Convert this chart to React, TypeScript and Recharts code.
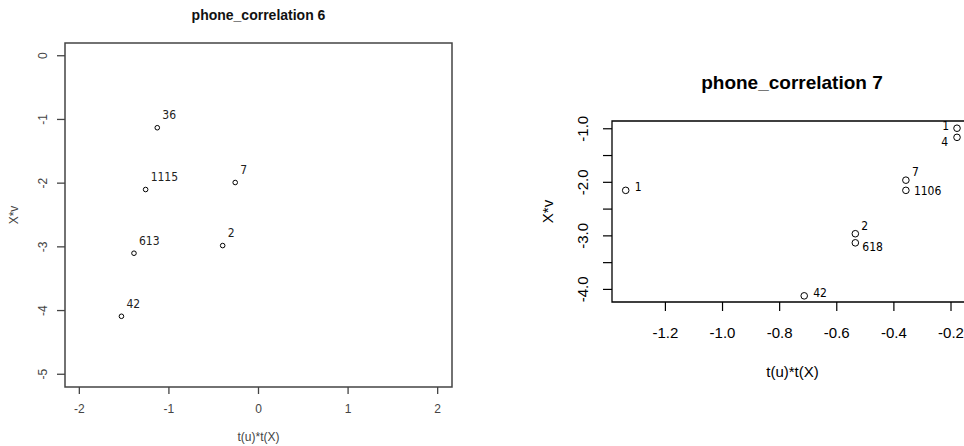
import React from "react";
import { ScatterChart, Scatter, XAxis, YAxis, ReferenceArea, Label } from "recharts";

// phone_correlation 6
const ids6 = ["36", "1115", "7", "2", "613", "42"];
const x6 = [-1.13, -1.26, -0.26, -0.4, -1.39, -1.53];
const y6 = [-1.13, -2.1, -1.99, -2.98, -3.1, -4.09];
const xTicks6 = [-2, -1, 0, 1, 2];
const yTicks6 = [0, -1, -2, -3, -4, -5];
const xDomain6: [number, number] = [-2.16, 2.16];
const yDomain6: [number, number] = [-5.2, 0.2];

// phone_correlation 7
const ids7 = ["1", "1", "4", "7", "1106", "2", "618", "42"];
const x7 = [-1.339, -0.179, -0.179, -0.358, -0.358, -0.535, -0.535, -0.714];
const y7 = [-2.15, -0.99, -1.16, -1.96, -2.15, -2.96, -3.13, -4.12];
const pos7 = ["right", "left", "lowerLeft", "upper", "rightLow", "upper", "lowerRight", "right"];
const xTicks7 = [-1.2, -1.0, -0.8, -0.6, -0.4, -0.2];
const yTicks7 = [-1, -1.5, -2, -2.5, -3, -3.5, -4];
const xDomain7: [number, number] = [-1.387, -0.123];
const yDomain7: [number, number] = [-4.235, -0.855];

const placements: Record<string, { dx: number; dy: number; anchor: "start" | "end" }> = {
  upperRight: { dx: 5, dy: -12.5, anchor: "start" },
  right: { dx: 9, dy: -3, anchor: "start" },
  rightLow: { dx: 8, dy: 1, anchor: "start" },
  upper: { dx: 6, dy: -8, anchor: "start" },
  lowerRight: { dx: 7, dy: 4, anchor: "start" },
  left: { dx: -8, dy: -2, anchor: "end" },
  lowerLeft: { dx: -9, dy: 5, anchor: "end" },
};

const data6 = ids6.map((id, i) => ({ id, x: x6[i], y: y6[i], pos: "upperRight" }));
const data7 = ids7.map((id, i) => ({ id, x: x7[i], y: y7[i], pos: pos7[i] }));

const labelFont = "'DejaVu Sans Condensed', 'DejaVu Sans', sans-serif";
const axisFont = "'Liberation Sans', Arial, sans-serif";

function makePoint(r: number, color: string) {
  return (props: any) => {
    const { cx, cy, payload } = props;
    const p = placements[payload.pos];
    return (
      <g>
        <circle cx={cx} cy={cy} r={r} fill="none" stroke="#000" strokeWidth={1} />
        <text
          x={cx + p.dx}
          y={cy + p.dy}
          textAnchor={p.anchor}
          dominantBaseline="central"
          fontFamily={labelFont}
          fontSize={12}
          fill={color}
        >
          {payload.id}
        </text>
      </g>
    );
  };
}

function makeXTick(size: number, color: string, fmt: (v: number) => string) {
  return (props: any) => (
    <text
      x={props.x}
      y={props.y}
      textAnchor="middle"
      dominantBaseline="central"
      fontFamily={axisFont}
      fontSize={size}
      fill={color}
    >
      {fmt(props.payload.value)}
    </text>
  );
}

function makeYTick(size: number, color: string, fmt: (v: number) => string) {
  return (props: any) => (
    <text
      x={props.x}
      y={props.y}
      transform={`rotate(-90 ${props.x} ${props.y})`}
      textAnchor="middle"
      dominantBaseline="central"
      fontFamily={axisFont}
      fontSize={size}
      fill={color}
    >
      {fmt(props.payload.value)}
    </text>
  );
}

const fmtInt = (v: number) => String(v);
const fmt1 = (v: number) => v.toFixed(1);
const fmtWhole1 = (v: number) => (Number.isInteger(v) ? v.toFixed(1) : "");

export default function App() {
  return (
    <div
      style={{
        position: "fixed",
        left: 0,
        top: 0,
        width: 964,
        height: 446,
        overflow: "hidden",
        background: "#fff",
      }}
    >
      <div
        style={{
          position: "absolute",
          left: 0,
          top: 7,
          width: 517,
          textAlign: "center",
          fontFamily: axisFont,
          fontWeight: "bold",
          fontSize: 14,
          lineHeight: "16px",
          color: "#111",
        }}
      >
        phone_correlation 6
      </div>
      <div style={{ position: "absolute", left: 0, top: 0 }}>
        <ScatterChart width={480} height={446} margin={{ top: 43, right: 28, bottom: 0, left: 0 }}>
          <XAxis
            type="number"
            dataKey="x"
            domain={xDomain6}
            ticks={xTicks6}
            allowDataOverflow
            height={59}
            axisLine={false}
            tickSize={7}
            tickMargin={15}
            tickLine={{ stroke: "#444", strokeWidth: 1.3 }}
            tick={makeXTick(12, "#444", fmtInt)}
          >
            <Label
              content={(p: any) => (
                <text
                  x={p.viewBox.x + p.viewBox.width / 2}
                  y={p.viewBox.y + 50}
                  textAnchor="middle"
                  dominantBaseline="central"
                  fontFamily={axisFont}
                  fontSize={12}
                  fill="#444"
                >
                  t(u)*t(X)
                </text>
              )}
            />
          </XAxis>
          <YAxis
            type="number"
            dataKey="y"
            domain={yDomain6}
            ticks={yTicks6}
            allowDataOverflow
            width={65}
            axisLine={false}
            tickSize={8}
            tickMargin={14}
            tickLine={{ stroke: "#444", strokeWidth: 1.3 }}
            tick={makeYTick(12, "#444", fmtInt)}
          >
            <Label
              content={(p: any) => {
                const cx = 14;
                const cy = p.viewBox.y + p.viewBox.height / 2;
                return (
                  <text
                    x={cx}
                    y={cy}
                    transform={`rotate(-90 ${cx} ${cy})`}
                    textAnchor="middle"
                    dominantBaseline="central"
                    fontFamily={axisFont}
                    fontSize={12}
                    fill="#444"
                  >
                    X*v
                  </text>
                );
              }}
            />
          </YAxis>
          <ReferenceArea
            x1={xDomain6[0]}
            x2={xDomain6[1]}
            y1={yDomain6[0]}
            y2={yDomain6[1]}
            fill="none"
            fillOpacity={0}
            stroke="#444"
            strokeWidth={1.5}
          />
          <Scatter data={data6} isAnimationActive={false} shape={makePoint(2.3, "#222")} />
        </ScatterChart>
      </div>

      <div
        style={{
          position: "absolute",
          left: 592,
          top: 72,
          width: 400,
          textAlign: "center",
          fontFamily: axisFont,
          fontWeight: "bold",
          fontSize: 19,
          lineHeight: "22px",
          color: "#000",
        }}
      >
        phone_correlation 7
      </div>
      <div style={{ position: "absolute", left: 480, top: 0 }}>
        <ScatterChart width={500} height={446} margin={{ top: 121, right: 7, bottom: 0, left: 0 }}>
          <XAxis
            type="number"
            dataKey="x"
            domain={xDomain7}
            ticks={xTicks7}
            allowDataOverflow
            height={144}
            axisLine={false}
            tickSize={9}
            tickMargin={21}
            tickLine={{ stroke: "#000", strokeWidth: 1.2 }}
            tick={makeXTick(15, "#000", fmt1)}
          >
            <Label
              content={(p: any) => (
                <text
                  x={p.viewBox.x + p.viewBox.width / 2}
                  y={p.viewBox.y + 69}
                  textAnchor="middle"
                  dominantBaseline="central"
                  fontFamily={axisFont}
                  fontSize={15}
                  fill="#000"
                >
                  t(u)*t(X)
                </text>
              )}
            />
          </XAxis>
          <YAxis
            type="number"
            dataKey="y"
            domain={yDomain7}
            ticks={yTicks7}
            allowDataOverflow
            width={132}
            axisLine={false}
            tickSize={9}
            tickMargin={20}
            tickLine={{ stroke: "#000", strokeWidth: 1.2 }}
            tick={makeYTick(15, "#000", fmtWhole1)}
          >
            <Label
              content={(p: any) => {
                const cx = 67;
                const cy = p.viewBox.y + p.viewBox.height / 2;
                return (
                  <text
                    x={cx}
                    y={cy}
                    transform={`rotate(-90 ${cx} ${cy})`}
                    textAnchor="middle"
                    dominantBaseline="central"
                    fontFamily={axisFont}
                    fontSize={15}
                    fill="#000"
                  >
                    X*v
                  </text>
                );
              }}
            />
          </YAxis>
          <ReferenceArea
            x1={xDomain7[0]}
            x2={xDomain7[1]}
            y1={yDomain7[0]}
            y2={yDomain7[1]}
            fill="none"
            fillOpacity={0}
            stroke="#000"
            strokeWidth={1.3}
          />
          <Scatter data={data7} isAnimationActive={false} shape={makePoint(3.3, "#000")} />
        </ScatterChart>
      </div>
    </div>
  );
}
